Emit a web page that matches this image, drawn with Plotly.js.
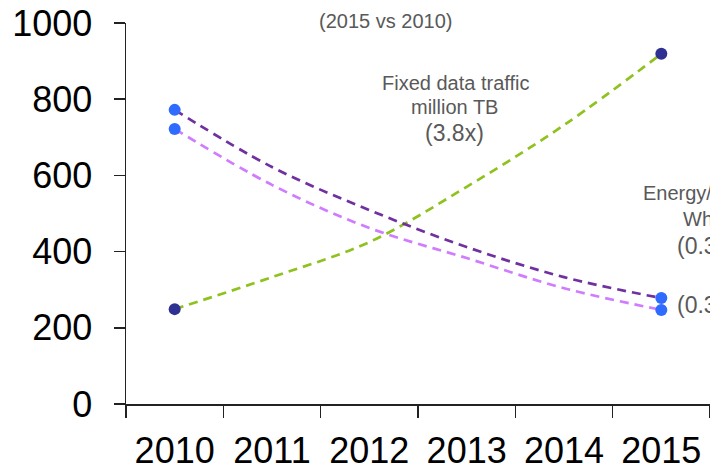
<!DOCTYPE html>
<html>
<head>
<meta charset="utf-8">
<script src="https://cdn.plot.ly/plotly-3.0.1.min.js"></script>
<style>
html,body{margin:0;padding:0;background:#fff;}
#chart{width:710px;height:470px;}
</style>
</head>
<body>
<div id="chart"></div>
<script>
// Categories
const years = ['2010', '2011', '2012', '2013', '2014', '2015'];
// Dashed trend curves at each year
const trafficTrend = [249, 333, 425, 570, 732, 919];
const energyTrendA = [772, 622, 509, 412, 333, 278];
const energyTrendB = [722, 575, 462, 383, 304, 247];
// Endpoint markers (2010 and 2015)
const endYears = ['2010', '2015'];
const trafficPoints = [249, 919];
const energyPointsA = [772, 278];
const energyPointsB = [722, 247];
// Y ticks
const yTicks = [0, 200, 400, 600, 800, 1000];

const FONT = 'Liberation Sans, Arial, sans-serif';
const GREY = '#595959';

const lineStyle = (c) => ({color: c, width: 2.7, dash: '9px,6px', shape: 'spline', smoothing: 1});

const traces = [
  {x: years, y: trafficTrend, mode: 'lines', line: lineStyle('#8fc21f'), hoverinfo: 'skip'},
  {x: years, y: energyTrendA, mode: 'lines', line: lineStyle('#7030a0'), hoverinfo: 'skip'},
  {x: years, y: energyTrendB, mode: 'lines', line: lineStyle('#cf7cff'), hoverinfo: 'skip'},
  {x: endYears, y: trafficPoints, mode: 'markers', marker: {color: '#2e3192', size: 12}},
  {x: endYears, y: energyPointsA, mode: 'markers', marker: {color: '#2f6bff', size: 12}},
  {x: endYears, y: energyPointsB, mode: 'markers', marker: {color: '#2f6bff', size: 12}}
];

const ann = (text, x, y, size, xanchor) => ({
  text: text, xref: 'paper', yref: 'paper', x: x, y: y,
  xanchor: xanchor || 'center', yanchor: 'middle', showarrow: false,
  font: {family: FONT, size: size, color: GREY}
});

// paper coords: plot x 126..710 (584px), y 404..23 (381px)
const px = (p) => (p - 126) / 584;
const py = (p) => (404 - p) / 381;

const layout = {
  width: 710, height: 470,
  margin: {l: 126, r: 0, t: 23, b: 66, pad: 0},
  paper_bgcolor: '#fff', plot_bgcolor: '#fff',
  showlegend: false,
  font: {family: FONT, color: '#000'},
  xaxis: {
    type: 'category', categoryorder: 'array', categoryarray: years,
    range: [-0.5, 5.5], tickson: 'boundaries',
    showline: true, linecolor: '#222', linewidth: 1.5,
    ticks: 'outside', ticklen: 12, tickwidth: 1.5, tickcolor: '#222',
    showgrid: false, zeroline: false,
    tickfont: {family: FONT, size: 36, color: '#000'},
    ticklabelstandoff: 14
  },
  yaxis: {
    range: [0, 1000], tickvals: yTicks,
    showline: true, linecolor: '#222', linewidth: 1.5,
    ticks: 'outside', ticklen: 11, tickwidth: 1.5, tickcolor: '#222',
    showgrid: false, zeroline: false,
    tickfont: {family: FONT, size: 36, color: '#000'},
    ticklabelstandoff: 14
  },
  annotations: [
    ann('(2015 vs 2010)', px(385), py(21), 20),
    ann('Fixed data traffic', px(455), py(83), 20),
    ann('million TB', px(454), py(107), 20),
    ann('(3.8x)', px(454), py(133), 23),
    ann('Energy/data traffic', px(643) - 0.004, py(193), 20, 'left'),
    ann('Wh/GB', px(683) - 0.004, py(219), 20, 'left'),
    ann('(0.3x)', px(677) - 0.004, py(246), 23, 'left'),
    ann('(0.3x)', px(677) - 0.004, py(305), 23, 'left')
  ]
};

Plotly.newPlot('chart', traces, layout, {staticPlot: true, displayModeBar: false});
</script>
</body>
</html>
